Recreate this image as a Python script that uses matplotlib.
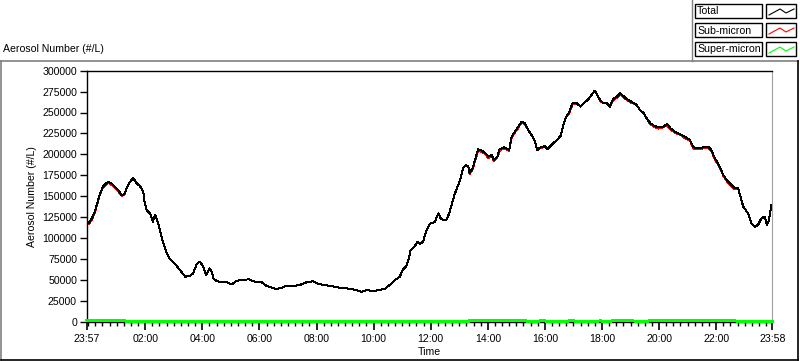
import numpy as np
import matplotlib
matplotlib.use('Agg')
import matplotlib.pyplot as plt
from matplotlib.lines import Line2D
from matplotlib.patches import Rectangle

plt.rcParams['font.family'] = ['Liberation Sans', 'DejaVu Sans']

# time of day (starts 23:57, ends 23:58 next day)
times = ["23:57", "00:02", "00:08", "00:14", "00:21", "00:25", "00:32", "00:42", "00:49", "00:56",
         "01:03", "01:10", "01:16", "01:21", "01:28", "01:35", "01:42", "01:49", "01:56", "01:59",
         "02:03", "02:10", "02:16", "02:21", "02:25", "02:31", "02:38", "02:44", "02:52", "03:03",
         "03:13", "03:24", "03:34", "03:41", "03:48", "03:55", "04:02", "04:08", "04:15", "04:20",
         "04:23", "04:30", "04:41", "04:51", "05:02", "05:12", "05:26", "05:37", "05:51", "06:05",
         "06:15", "06:26", "06:36", "06:47", "06:57", "07:11", "07:25", "07:39", "07:53", "08:04",
         "08:18", "08:28", "08:49", "09:10", "09:24", "09:35", "09:45", "09:59", "10:13", "10:24",
         "10:34", "10:45", "10:55", "11:01", "11:08", "11:13", "11:18", "11:27", "11:32", "11:37",
         "11:44", "11:50", "11:58", "12:09", "12:16", "12:21", "12:26", "12:33", "12:39", "12:44",
         "12:51", "12:58", "13:03", "13:08", "13:14", "13:19", "13:22", "13:29", "13:35", "13:40",
         "13:47", "13:54", "14:01", "14:08", "14:13", "14:20", "14:25", "14:34", "14:39", "14:45",
         "14:50", "14:57", "15:04", "15:11", "15:18", "15:25", "15:32", "15:39", "15:44", "15:51",
         "16:00", "16:05", "16:14", "16:25", "16:33", "16:40", "16:46", "16:51", "16:58", "17:07",
         "17:15", "17:22", "17:31", "17:38", "17:45", "17:50", "17:56", "18:03", "18:10", "18:17",
         "18:23", "18:31", "18:38", "18:45", "18:52", "19:02", "19:13", "19:20", "19:28", "19:35",
         "19:42", "19:49", "19:58", "20:09", "20:17", "20:24", "20:33", "20:44", "20:54", "21:05",
         "21:12", "21:22", "21:33", "21:43", "21:50", "21:57", "22:06", "22:15", "22:22", "22:32",
         "22:39", "22:46", "22:50", "22:57", "23:07", "23:14", "23:21", "23:28", "23:35", "23:42",
         "23:47", "23:51", "23:56", "23:58"]

total = [120200, 117500, 123400, 131300, 145300, 153300, 162000, 167200, 165000, 161200,
         157300, 151300, 152100, 159300, 167200, 171300, 165300, 162000, 155300, 141400,
         133400, 129400, 119400, 127400, 121400, 109400, 93500, 83500, 74400, 68800,
         61600, 53600, 54400, 57600, 68800, 71500, 65500, 55600, 63600, 59600,
         51700, 48400, 46900, 47000, 44500, 48800, 49600, 50500, 47600, 46900,
         42500, 40400, 38900, 40400, 42800, 42500, 43700, 46900, 48100, 44900,
         43300, 42800, 40400, 39200, 37700, 35300, 37700, 36500, 37700, 39200,
         43700, 49600, 53600, 61600, 65500, 73600, 85500, 90300, 95500, 92700,
         95500, 107400, 116600, 119400, 129400, 123400, 121400, 122000, 129400, 139400,
         153300, 163300, 171300, 183300, 187200, 185200, 177300, 184400, 197100, 206000,
         204300, 201900, 197100, 199100, 193200, 197100, 206000, 208400, 207200, 205100,
         221000, 227000, 233000, 239000, 237100, 229100, 223100, 215100, 205100, 208400,
         209900, 206000, 211100, 217100, 221900, 237100, 246500, 249800, 261000, 261000,
         257000, 261000, 265800, 270900, 276100, 270900, 264900, 261000, 261000, 257000,
         265800, 268900, 272900, 269700, 265800, 262900, 259000, 253000, 249000, 241900,
         237100, 234200, 232300, 233100, 236200, 231100, 227000, 224300, 221000, 217100,
         208400, 207200, 208400, 209100, 205100, 195200, 187200, 175300, 169300, 163300,
         159300, 159300, 151300, 137300, 129400, 117400, 113400, 115400, 123400, 125400,
         115400, 121400, 139400, 140000]

super_micron = [1500, 600, 1300, 800, 1500, 700, 1200, 600, 1400, 800,
                1300, 700, 1000, 0, 0, 0, 0, 0, 0, 0,
                0, 0, 0, 0, 0, 0, 0, 0, 0, 0,
                0, 0, 0, 0, 0, 0, 0, 0, 0, 0,
                0, 0, 0, 0, 0, 0, 0, 0, 0, 0,
                0, 0, 0, 0, 0, 0, 0, 0, 0, 0,
                0, 0, 0, 0, 0, 0, 0, 0, 0, 0,
                0, 0, 0, 0, 0, 0, 0, 0, 0, 0,
                0, 0, 0, 0, 0, 0, 0, 0, 0, 0,
                0, 0, 0, 0, 0, 0, 1400, 700, 1600, 900,
                1500, 800, 1600, 700, 1400, 900, 1500, 800, 1300, 700,
                1500, 800, 1400, 700, 1200, 0, 0, 0, 0, 900,
                1000, 0, 0, 0, 0, 0, 0, 1000, 1200, 0,
                0, 0, 0, 0, 0, 0, 1000, 0, 0, 0,
                1200, 1500, 800, 1400, 700, 1300, 0, 0, 0, 0,
                1400, 800, 1500, 700, 1600, 900, 1400, 800, 1500, 700,
                1500, 800, 1400, 700, 1300, 900, 1500, 800, 1200, 1000,
                1100, 0, 0, 0, 0, 0, 0, 0, 0, 0,
                0, 0, 0, 0]

y_ticks = [0, 25000, 50000, 75000, 100000, 125000, 150000, 175000,
           200000, 225000, 250000, 275000, 300000]
x_tick_labels = ["23:57", "02:00", "04:00", "06:00", "08:00", "10:00", "12:00",
                 "14:00", "16:00", "18:00", "20:00", "22:00", "23:58"]
legend_names = ["Total", "Sub-micron", "Super-micron"]
legend_colors = ["black", "#ff0000", "#00ff00"]


def to_minutes(labels):
    # minutes since midnight, rolling over into the next day
    out = []
    prev = -1
    offset = 0
    for s in labels:
        h, m = s.split(':')
        v = int(h) * 60 + int(m)
        if v < prev:
            offset = 1440
        prev = v
        out.append(v + offset)
    return np.array(out)


t = to_minutes(times)
total = np.array(total)
super_micron = np.array(super_micron)
sub_micron = total - super_micron
tick_pos = to_minutes(x_tick_labels)

W, H = 800, 361
fig = plt.figure(figsize=(W / 100, H / 100), dpi=100)
fig.patch.set_facecolor('white')


def fx(x):
    return x / W


def fy(y):
    return 1 - y / H


ax = fig.add_axes([fx(86.7), fy(321.5), fx(772.3) - fx(86.7), fy(70.7) - fy(321.5)])
ax.plot(t, sub_micron, color=legend_colors[1], lw=0.7, antialiased=False)
ax.plot(t, total, color=legend_colors[0], lw=0.7, antialiased=False)
ax.plot(t, super_micron, color=legend_colors[2], lw=1.3, clip_on=False, zorder=5,
        antialiased=False)

ax.set_xlim(t[0], t[-1])
ax.set_ylim(0, 300000)
ax.set_yticks(y_ticks)
ax.set_yticklabels([str(v) for v in y_ticks])
ax.set_xticks(tick_pos)
ax.set_xticklabels(x_tick_labels)
ax.set_xticks(np.arange(1440, t[-1], 15), minor=True)
ax.tick_params(axis='y', direction='out', length=5, width=1, pad=2, labelsize=7.6)
ax.tick_params(axis='x', which='major', direction='out', length=6, width=1.2, pad=3, labelsize=7.6)
ax.tick_params(axis='x', which='minor', direction='out', length=3, width=1)
ax.spines['right'].set_color('#a0a0a0')
for s in ['left', 'top', 'bottom']:
    ax.spines[s].set_color('black')
    ax.spines[s].set_linewidth(1.0)
ax.set_ylabel("Aerosol Number (#/L)", fontsize=7.6, labelpad=4)
ax.set_xlabel("Time", fontsize=7.6, labelpad=2)

# outer panel frame
fig.add_artist(Line2D([fx(0), fx(798)], [fy(61), fy(61)], color='#808080', lw=1.2))
fig.add_artist(Line2D([fx(1), fx(1)], [fy(61), fy(360)], color='#808080', lw=1.2))
fig.add_artist(Line2D([fx(1), fx(798)], [fy(360), fy(360)], color='black', lw=1.2))
fig.add_artist(Line2D([fx(798), fx(798)], [fy(61), fy(360)], color='black', lw=1.2))
fig.text(fx(3), fy(49), "Aerosol Number (#/L)", fontsize=7.6, va='center', ha='left')

# legend panel
fig.add_artist(Line2D([fx(692), fx(692)], [fy(0), fy(61)], color='#808080', lw=1.0))
for i, (name, col) in enumerate(zip(legend_names, legend_colors)):
    top = 4 + i * 19
    fig.add_artist(Rectangle((fx(695), fy(top + 14)), fx(67), fy(0) - fy(14),
                             transform=fig.transFigure, fill=False, ec='black', lw=1.0))
    fig.add_artist(Rectangle((fx(766), fy(top + 14)), fx(30), fy(0) - fy(14),
                             transform=fig.transFigure, fill=False, ec='black', lw=1.0))
    fig.text(fx(697), fy(top + 7.5), name, fontsize=7.6, va='center', ha='left')
    sx = [769, 780, 786, 794]
    sy = [top + 11, top + 5, top + 9, top + 5]
    fig.add_artist(Line2D([fx(v) for v in sx], [fy(v) for v in sy], color=col, lw=0.8))

fig.savefig('out.png', dpi=100)
